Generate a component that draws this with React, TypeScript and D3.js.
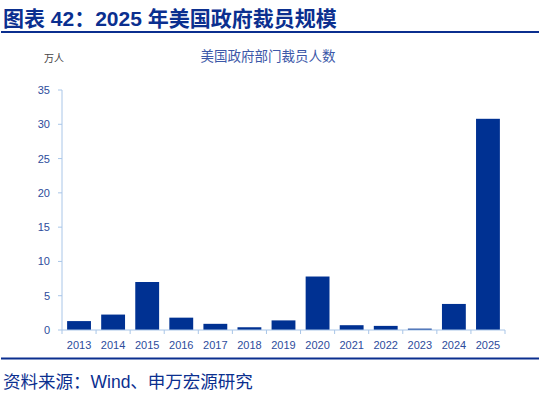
import React, { useEffect, useRef } from 'react';
import * as d3 from 'd3';

// 数据：美国政府部门裁员人数（万人）
const years = ['2013', '2014', '2015', '2016', '2017', '2018', '2019', '2020', '2021', '2022', '2023', '2024', '2025'];
const layoffs = [1.3, 2.25, 7.0, 1.8, 0.9, 0.4, 1.4, 7.8, 0.7, 0.6, 0.2, 3.8, 30.8];
const yTicks = [0, 5, 10, 15, 20, 25, 30, 35];

const W = 545;
const H = 394;

const App: React.FC = () => {
    const svgRef = useRef<SVGSVGElement | null>(null);

    useEffect(() => {
        if (!svgRef.current) return;
        const svg = d3.select(svgRef.current);
        svg.selectAll('*').remove();

        const font = '"Liberation Sans", "Noto Sans CJK SC", Arial, sans-serif';
        const navy = '#0b2f8f';
        const axisBlue = '#a9c6e8';
        const labelBlue = '#2d4c9c';

        // --- 标题与横线 ---
        svg.append('text')
            .attr('x', 3).attr('y', 26)
            .attr('font-family', font).attr('font-size', 21).attr('font-weight', 'bold')
            .attr('fill', navy)
            .text('图表 42：2025 年美国政府裁员规模');
        svg.append('rect').attr('x', 1).attr('y', 31).attr('width', 538).attr('height', 2).attr('fill', navy);
        svg.append('rect').attr('x', 1).attr('y', 357.5).attr('width', 538).attr('height', 2).attr('fill', navy);

        svg.append('text')
            .attr('x', 3).attr('y', 388)
            .attr('font-family', font).attr('font-size', 17.5)
            .attr('fill', navy)
            .text('资料来源：Wind、申万宏源研究');

        // --- 图内标题 ---
        svg.append('text')
            .attr('x', 268).attr('y', 61)
            .attr('text-anchor', 'middle')
            .attr('font-family', font).attr('font-size', 13.5)
            .attr('fill', '#3c58a8')
            .text('美国政府部门裁员人数');
        svg.append('text')
            .attr('x', 44).attr('y', 62)
            .attr('font-family', font).attr('font-size', 10)
            .attr('fill', '#444')
            .text('万人');

        // --- 比例尺 ---
        const left = 62, right = 505, top = 90, bottom = 330;
        const x = d3.scaleBand().domain(years).range([left, right]).paddingInner(0.3).paddingOuter(0.15);
        const y = d3.scaleLinear().domain([0, 35]).range([bottom, top]);

        const chart = svg.append('g');

        // y 轴
        chart.append('line')
            .attr('x1', left).attr('x2', left).attr('y1', top).attr('y2', bottom)
            .attr('stroke', axisBlue).attr('stroke-width', 1);
        chart.selectAll('.ytick')
            .data(yTicks)
            .enter()
            .append('line')
            .attr('x1', left - 4).attr('x2', left)
            .attr('y1', (d) => y(d)).attr('y2', (d) => y(d))
            .attr('stroke', axisBlue);
        chart.selectAll('.ylab')
            .data(yTicks)
            .enter()
            .append('text')
            .attr('x', left - 12).attr('y', (d) => y(d) + 4)
            .attr('text-anchor', 'end')
            .attr('font-family', font).attr('font-size', 11)
            .attr('fill', labelBlue)
            .text((d) => d);

        // 柱子
        chart.selectAll('.bar')
            .data(layoffs)
            .enter()
            .append('rect')
            .attr('x', (d, i) => x(years[i])!)
            .attr('y', (d) => y(d))
            .attr('width', x.bandwidth())
            .attr('height', (d) => bottom - y(d))
            .attr('fill', '#003192');

        // x 轴
        chart.append('line')
            .attr('x1', left).attr('x2', right).attr('y1', bottom).attr('y2', bottom)
            .attr('stroke', axisBlue).attr('stroke-width', 1);
        const step = x.step();
        const bounds = d3.range(years.length + 1).map((i) => left + (right - left - step * years.length) / 2 + i * step);
        chart.selectAll('.xtick')
            .data(bounds)
            .enter()
            .append('line')
            .attr('x1', (d) => d).attr('x2', (d) => d)
            .attr('y1', bottom).attr('y2', bottom + 4)
            .attr('stroke', axisBlue);
        chart.selectAll('.xlab')
            .data(years)
            .enter()
            .append('text')
            .attr('x', (d) => x(d)! + x.bandwidth() / 2)
            .attr('y', bottom + 19)
            .attr('text-anchor', 'middle')
            .attr('font-family', font).attr('font-size', 11)
            .attr('fill', labelBlue)
            .text((d) => d);
    }, []);

    return (
        <div style={{ position: 'absolute', left: 0, top: 0, width: W, height: H, background: '#fff' }}>
            <svg ref={svgRef} width={W} height={H}></svg>
        </div>
    );
};

export default App;
